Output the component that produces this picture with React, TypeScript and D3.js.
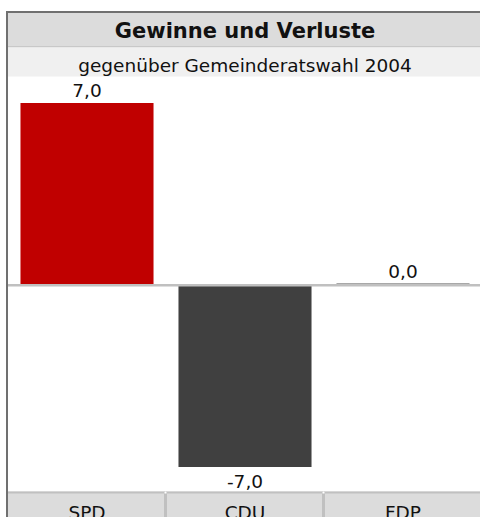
import React from 'react';
import * as d3 from 'd3';

const parties = ['SPD', 'CDU', 'FDP'];
const changes = [7.0, -7.0, 0.0];
const barColors = ['#c00000', '#404040', '#a8a8a8'];
const title = 'Gewinne und Verluste';
const subtitle = 'gegenüber Gemeinderatswahl 2004';

const W = 480,
  H = 517;
const font = "'DejaVu Sans', Verdana, sans-serif";

const fmt = (v: number) => v.toFixed(1).replace('.', ',');

export default function App() {
  const left = 8,
    right = 482;

  const x = d3
    .scaleBand<string>()
    .domain(parties)
    .range([left, right])
    .paddingInner(0.158)
    .paddingOuter(0.079);
  const step = x.step();

  const y = d3.scaleLinear().domain([-7, 7]).range([467, 103]);
  const zero = y(0);

  return (
    <svg width={W} height={H} style={{ position: 'absolute', left: 0, top: 0, background: '#fff' }}>
      {/* header */}
      <rect x={left} y={13} width={W - left} height={33} fill="#dcdcdc" />
      <rect x={left} y={46} width={W - left} height={1.5} fill="#c8c8c8" />
      <rect x={left} y={47.5} width={W - left} height={29} fill="#f0f0f0" />
      <text x={(left + right) / 2} y={38} textAnchor="middle" fontFamily={font} fontWeight="bold" fontSize={21} fill="#111">
        {title}
      </text>
      <text x={(left + right) / 2} y={71.5} textAnchor="middle" fontFamily={font} fontSize={18.5} fill="#111">
        {subtitle}
      </text>

      {/* bars */}
      {parties.map((p, i) => {
        const v = changes[i];
        const bx = x(p) as number;
        const bw = x.bandwidth();
        const cx = bx + bw / 2;
        if (v === 0) {
          return (
            <g key={p}>
              <rect x={bx} y={zero - 2} width={bw} height={1.5} fill={barColors[i]} />
              <text x={cx} y={zero - 7} textAnchor="middle" fontFamily={font} fontSize={18.5} fill="#111">
                {fmt(v)}
              </text>
            </g>
          );
        }
        const top = v > 0 ? y(v) : zero + 1;
        const bottom = v > 0 ? zero - 1 : y(v);
        return (
          <g key={p}>
            <rect x={bx} y={top} width={bw} height={bottom - top} fill={barColors[i]} />
            <text
              x={cx}
              y={v > 0 ? y(v) - 6 : y(v) + 21}
              textAnchor="middle"
              fontFamily={font}
              fontSize={18.5}
              fill="#111"
            >
              {fmt(v)}
            </text>
          </g>
        );
      })}

      {/* zero line */}
      <rect x={left} y={zero - 1} width={W - left} height={2.5} fill="#c0c0c0" />

      {/* category band */}
      <rect x={left} y={491.5} width={W - left} height={H - 491.5} fill="#dcdcdc" />
      <rect x={left} y={491.5} width={W - left} height={2} fill="#c0c0c0" />
      {parties.slice(1).map((p, i) => {
        const dx = left + step * (i + 1);
        return (
          <g key={'d' + p}>
            <rect x={dx - 2} y={491.5} width={3} height={H - 491.5} fill="#c0c0c0" />
            <rect x={dx - 1.5} y={491.5} width={2} height={2} fill="#fff" />
          </g>
        );
      })}
      {parties.map(p => (
        <text
          key={'l' + p}
          x={(x(p) as number) + x.bandwidth() / 2}
          y={519}
          textAnchor="middle"
          fontFamily={font}
          fontSize={18.5}
          fill="#111"
        >
          {p}
        </text>
      ))}

      {/* frame */}
      <rect x={6} y={11} width={W - 6} height={2} fill="#707070" />
      <rect x={6} y={11} width={2} height={H - 11} fill="#707070" />
    </svg>
  );
}
